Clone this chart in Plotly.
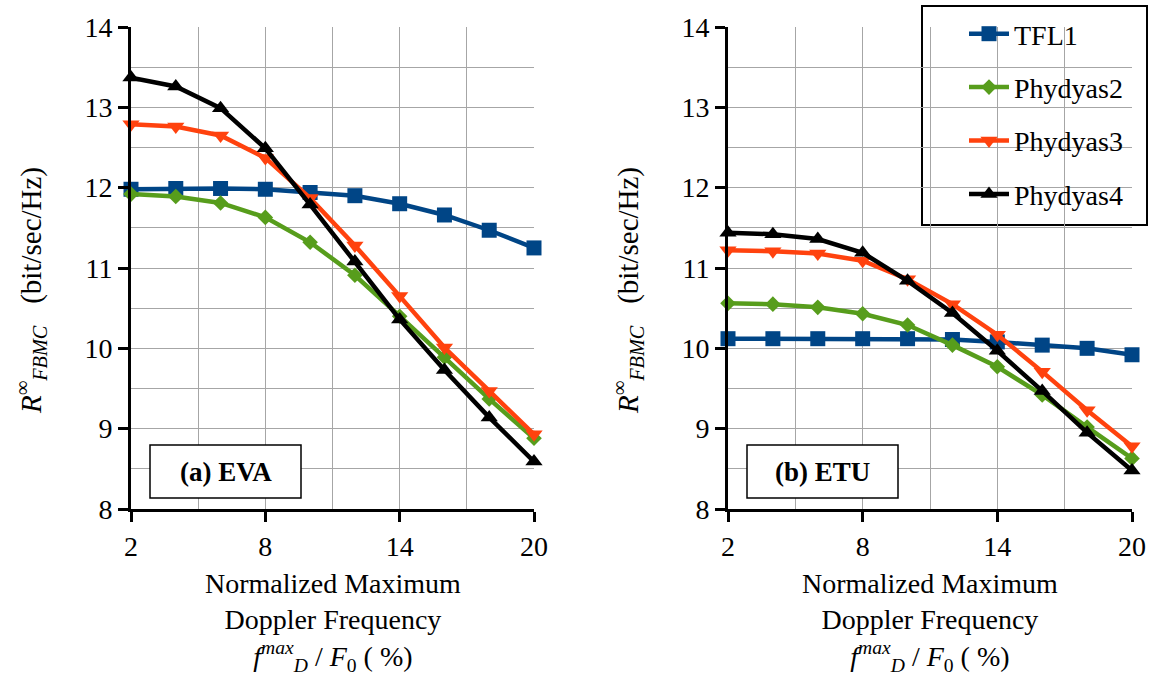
import plotly.graph_objects as go

W, H = 1149, 675

x_vals = [2, 4, 6, 8, 10, 12, 14, 16, 18, 20]

eva_tfl1 = [11.98, 11.99, 11.99, 11.98, 11.94, 11.90, 11.80, 11.66, 11.47, 11.25]
eva_phy2 = [11.92, 11.89, 11.81, 11.63, 11.32, 10.91, 10.40, 9.89, 9.37, 8.88]
eva_phy3 = [12.79, 12.76, 12.65, 12.37, 11.87, 11.28, 10.65, 10.01, 9.47, 8.93]
eva_phy4 = [13.37, 13.26, 12.99, 12.49, 11.79, 11.08, 10.36, 9.73, 9.14, 8.59]

etu_tfl1 = [10.12, 10.12, 10.12, 10.12, 10.12, 10.11, 10.08, 10.04, 10.00, 9.92]
etu_phy2 = [10.56, 10.55, 10.51, 10.43, 10.29, 10.04, 9.77, 9.42, 9.02, 8.63]
etu_phy3 = [11.22, 11.21, 11.18, 11.09, 10.86, 10.55, 10.17, 9.71, 9.23, 8.78]
etu_phy4 = [11.44, 11.42, 11.36, 11.19, 10.84, 10.44, 9.97, 9.47, 8.95, 8.48]

series_names = ["TFL1", "Phydyas2", "Phydyas3", "Phydyas4"]
series_colors = ["#004586", "#579d1c", "#ff420e", "#000000"]
series_symbols = ["square", "diamond", "triangle-down", "triangle-up"]
series_sizes = [15, 12, 15, 15]

x_ticks = [2, 8, 14, 20]
y_ticks = [8, 9, 10, 11, 12, 13, 14]
panel_labels = ["(a) EVA", "(b) ETU"]

FONT = "Liberation Serif, Times New Roman, DejaVu Serif, serif"


def px(x):
    return x / W


def py(y):
    return 1 - y / H


fig = go.Figure()

panels = [
    ("x", "y", [eva_tfl1, eva_phy2, eva_phy3, eva_phy4], False),
    ("x2", "y2", [etu_tfl1, etu_phy2, etu_phy3, etu_phy4], True),
]
for xa, ya, data, show in panels:
    for i, vals in enumerate(data):
        fig.add_trace(go.Scatter(
            x=x_vals, y=vals, xaxis=xa, yaxis=ya,
            name=series_names[i], legendgroup=series_names[i],
            showlegend=show, mode="lines+markers", cliponaxis=False,
            line=dict(color=series_colors[i], width=4.5),
            marker=dict(symbol=series_symbols[i], size=series_sizes[i],
                        color=series_colors[i]),
        ))

grid_col = "#a6a6a6"


def xaxis_cfg(domain, anchor):
    return dict(
        domain=domain, anchor=anchor, range=[2, 20], automargin=False,
        tickvals=x_ticks, ticks="outside", ticklen=10, tickwidth=2.5,
        tickcolor="black", showline=True, linecolor="black", linewidth=3,
        showgrid=True, gridcolor=grid_col, gridwidth=1,
        minor=dict(dtick=3, tick0=2, showgrid=True, gridcolor=grid_col,
                   gridwidth=1, ticks=""),
        zeroline=False, tickfont=dict(family=FONT, size=28, color="black"),
    )


def yaxis_cfg(anchor):
    return dict(
        domain=[py(509), py(27)], anchor=anchor, range=[8, 14],
        automargin=False,
        tickvals=y_ticks, ticks="outside", ticklen=10, tickwidth=2.5,
        tickcolor="black", showline=True, linecolor="black", linewidth=3,
        showgrid=True, gridcolor=grid_col, gridwidth=1,
        minor=dict(dtick=0.5, tick0=8, showgrid=True, gridcolor=grid_col,
                   gridwidth=1, ticks=""),
        zeroline=False, tickfont=dict(family=FONT, size=28, color="black"),
    )


left = (131, 534)
right = (728, 1132)

fig.update_layout(
    width=W, height=H,
    margin=dict(l=0, r=0, t=0, b=0, autoexpand=False),
    paper_bgcolor="white", plot_bgcolor="white",
    font=dict(family=FONT, color="black"),
    xaxis=xaxis_cfg([px(left[0]), px(left[1])], "y"),
    yaxis=yaxis_cfg("x"),
    xaxis2=xaxis_cfg([px(right[0]), px(right[1])], "y2"),
    yaxis2=yaxis_cfg("x2"),
    legend=dict(
        x=px(964), y=py(9), xanchor="left", yanchor="top",
        font=dict(family=FONT, size=28, color="black"),
        bgcolor="rgba(0,0,0,0)", borderwidth=0,
        tracegroupgap=14, itemwidth=40,
    ),
    showlegend=True,
)

shapes = []
annotations = []

# legend frame
shapes.append(dict(type="rect", xref="paper", yref="paper",
                   x0=px(922), x1=px(1147), y0=py(225), y1=py(6),
                   line=dict(color="black", width=2), fillcolor="white",
                   layer="below"))

y_title = ("<i>R</i><sup>∞</sup><sub><i>FBMC</i></sub>"
           "\u00a0\u00a0\u00a0(bit/sec/Hz)")
x_title = ("Normalized Maximum<br>Doppler Frequency<br>"
           "<i>f</i><sup><i>max</i></sup><sub><i>D</i></sub> / "
           "<i>F</i><sub>0</sub> ( %)")

for k, (l, r) in enumerate([left, right]):
    off = l - left[0]
    # panel label box
    shapes.append(dict(type="rect", xref="paper", yref="paper",
                       x0=px(150 + off), x1=px(301 + off),
                       y0=py(498), y1=py(445),
                       line=dict(color="black", width=1.5),
                       fillcolor="white", layer="above"))
    annotations.append(dict(
        text="<b>" + panel_labels[k] + "</b>", xref="paper", yref="paper",
        x=px(225.5 + off), y=py(472), showarrow=False,
        xanchor="center", yanchor="middle",
        font=dict(family=FONT, size=27, color="black")))
    # y title
    annotations.append(dict(
        text=y_title, xref="paper", yref="paper",
        x=px(31 + off), y=py(291), showarrow=False, textangle=-90,
        xanchor="center", yanchor="middle",
        font=dict(family=FONT, size=29, color="black")))
    # x title
    annotations.append(dict(
        text=x_title, xref="paper", yref="paper",
        x=px((l + r) / 2), y=py(622), showarrow=False,
        xanchor="center", yanchor="middle",
        font=dict(family=FONT, size=28, color="black")))

fig.update_layout(shapes=shapes, annotations=annotations)

fig.write_html(
    "out.html",
    config={"displayModeBar": False},
    post_script="document.body.style.margin='0';"
                "document.body.style.padding='0';"
                "document.body.style.overflow='hidden';",
)
